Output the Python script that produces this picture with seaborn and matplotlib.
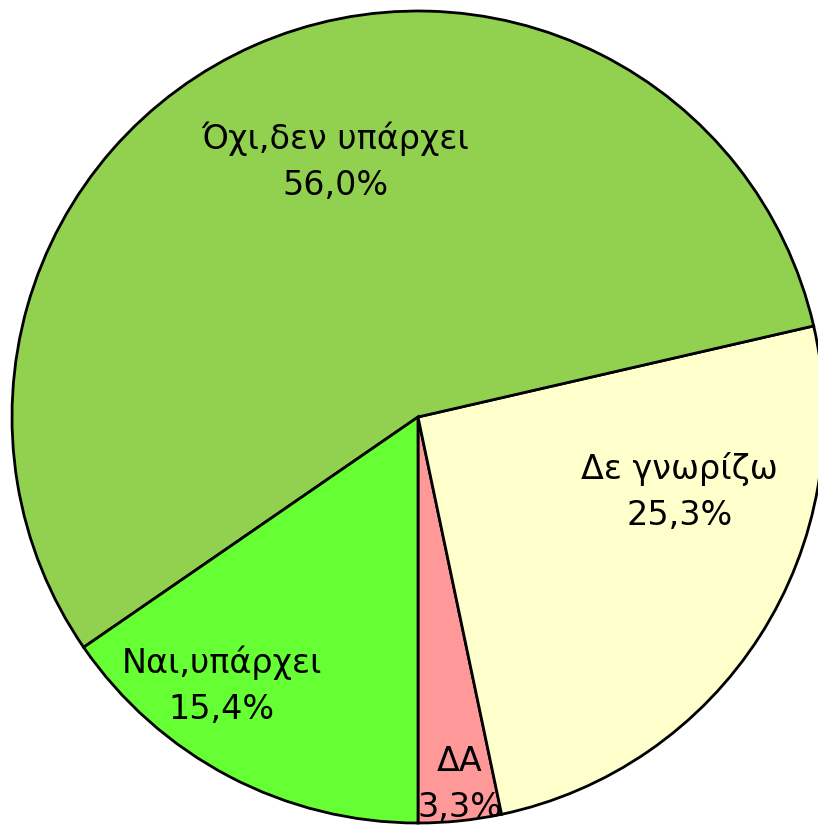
import matplotlib
matplotlib.use("Agg")
import matplotlib.pyplot as plt
import seaborn as sns

# Data
labels = ["ΔΑ", "Δε γνωρίζω", "Όχι,δεν υπάρχει", "Ναι,υπάρχει"]
shares = [3.3, 25.3, 56.0, 15.4]
colors = ["#FF9999", "#FFFFCC", "#92D050", "#66FF33"]

# hand-placed label centres (data units, pie radius = 1)
label_pos = [(0.103, -0.906), (0.645, -0.185), (-0.204, 0.628), (-0.483, -0.663)]

sns.set_theme(style="white")
plt.rcParams['font.family'] = ['DejaVu Sans']

fig = plt.figure(figsize=(8.18, 8.25), dpi=100)
# axes box placed so the pie centre lands at ~(418, 417) px with r ~ 406 px
r_px = 406
ax = fig.add_axes([(418 - r_px) / 818, (825 - 417 - r_px) / 825,
                   2 * r_px / 818, 2 * r_px / 825])
ax.pie(shares, colors=colors, startangle=-90, counterclock=True,
       wedgeprops=dict(edgecolor="black", linewidth=2))
ax.set_xlim(-1, 1)
ax.set_ylim(-1, 1)
ax.set_aspect("equal")
ax.axis("off")

for lab, val, (x, y) in zip(labels, shares, label_pos):
    txt = f"{lab}\n{val:.1f}%".replace(".", ",")
    ax.text(x, y, txt, ha="center", va="center", fontsize=24,
            linespacing=1.5, color="black")

fig.savefig("out.png", dpi=100)
